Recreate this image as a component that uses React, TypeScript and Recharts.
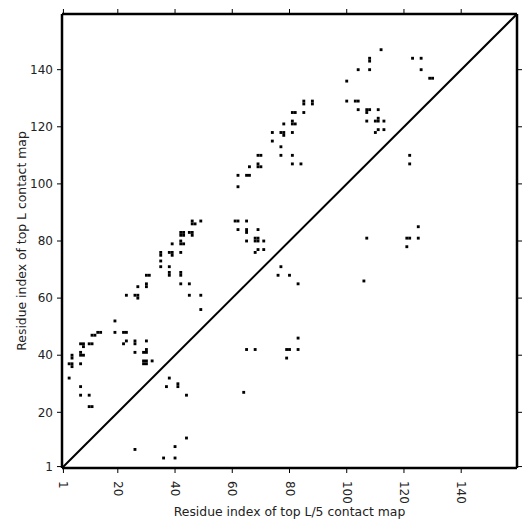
import { ScatterChart, Scatter, XAxis, YAxis, ReferenceLine, Label } from "recharts";

// protein length: the map runs from 0.5 to L + 0.5
const L = 159;
const tickValues = [1, 20, 40, 60, 80, 100, 120, 140];

// contacts above the diagonal (top L)
const topL: [number, number][] = [
  [19, 52], [19, 48], [13, 48], [14, 48], [11, 47], [12, 47], [22, 48], [23, 48],
  [7, 44], [8, 44], [8, 43], [10, 44], [11, 44], [22, 44], [23, 45], [26, 45],
  [26, 44], [30, 45], [26, 41], [29, 41], [30, 41], [30, 42], [4, 40], [4, 39],
  [7, 41], [7, 40], [8, 40], [3, 37], [4, 37], [4, 36], [7, 37], [29, 38],
  [30, 38], [29, 37], [30, 37], [32, 38], [3, 32], [7, 29], [7, 26], [10, 26],
  [10, 22], [11, 22], [49, 56],
  [46, 87], [46, 86], [47, 86], [49, 87], [42, 83], [43, 83], [42, 82], [43, 82],
  [45, 83], [46, 83], [46, 82], [39, 79], [42, 80], [42, 79], [43, 79], [35, 76],
  [35, 75], [38, 76], [39, 76], [39, 75], [42, 76], [35, 73], [35, 71], [38, 71],
  [38, 69], [38, 68], [42, 69], [42, 68], [30, 68], [31, 68], [27, 64], [30, 65],
  [30, 64], [42, 65], [45, 65], [23, 61], [26, 61], [27, 61], [27, 60], [45, 61],
  [49, 61],
  [66, 106], [69, 107], [69, 106], [70, 106], [81, 107], [84, 107], [62, 103],
  [65, 103], [66, 103], [62, 99], [61, 87], [62, 87], [65, 87], [62, 84], [65, 84],
  [65, 83], [69, 84], [65, 80], [68, 81], [69, 81], [68, 80], [69, 80], [71, 80],
  [68, 76], [69, 77], [71, 77],
  [108, 144], [108, 143], [108, 140], [104, 140], [100, 136], [100, 129], [103, 129],
  [104, 129], [107, 126], [108, 126], [107, 125], [104, 126], [107, 122], [85, 129],
  [85, 128], [88, 129], [88, 128], [81, 125], [82, 125], [85, 125], [81, 122],
  [81, 121], [82, 121], [78, 121], [74, 118], [77, 118], [78, 118], [78, 117],
  [81, 118], [74, 115], [77, 113], [69, 110], [70, 110], [77, 110], [81, 110],
  [112, 147], [123, 144], [126, 144], [126, 140], [129, 137], [130, 137], [111, 126],
  [111, 123], [110, 122], [111, 122], [113, 122], [110, 118], [111, 119], [113, 119],
];

// contacts below the diagonal (top L/5)
const topL5: [number, number][] = [
  [77, 71], [76, 68], [80, 68], [83, 65], [106, 66], [107, 81], [121, 81], [122, 81],
  [125, 81], [125, 85], [121, 78], [122, 110], [122, 107], [83, 46], [65, 42],
  [68, 42], [79, 42], [80, 42], [83, 42], [79, 39], [64, 27], [38, 32], [37, 29],
  [41, 30], [41, 29], [44, 26], [44, 11], [40, 8], [26, 7], [36, 4], [40, 4],
];

const toPoints = (list: [number, number][]) => list.map(([x, y]) => ({ x, y }));

const W = 531;
const H = 531;
const margin = { top: 13, right: 13, bottom: 0, left: 0 };
const yAxisWidth = 62;
const xAxisHeight = 63;
const cell = 455 / L;

const font = "DejaVu Sans";
const labelSize = 12.4;

const Cell = (props: any) => {
  const { cx, cy } = props;
  if (cx == null || cy == null) return null;
  return (
    <rect x={cx - cell / 2} y={cy - cell / 2} width={cell} height={cell} fill="#000" />
  );
};

const RotatedTick = ({ x, y, payload }: any) => (
  <text
    x={x}
    y={y}
    transform={`rotate(90, ${x}, ${y})`}
    textAnchor="start"
    dominantBaseline="central"
    fontSize={12}
    fontFamily={font}
    fill="#222"
  >
    {payload.value}
  </text>
);

const YLabel = ({ viewBox }: any) => {
  const cx = (viewBox?.x ?? 0) + 21;
  const cy = (viewBox?.y ?? 14) + (viewBox?.height ?? 454) / 2;
  return (
    <text
      x={cx}
      y={cy}
      transform={`rotate(-90, ${cx}, ${cy})`}
      textAnchor="middle"
      dominantBaseline="central"
      fontSize={labelSize}
      fontFamily={font}
      fill="#222"
    >
      Residue index of top L contact map
    </text>
  );
};

const blank = () => "";

export default function App() {
  const frame = { stroke: "#000", strokeWidth: 2.5 };
  const tl = { stroke: "#000", strokeWidth: 1 };
  const domain: [number, number] = [0.5, L + 0.5];
  return (
    <div style={{ position: "absolute", left: 0, top: 0, background: "#fff" }}>
      <ScatterChart width={W} height={H} margin={margin} style={{ fontFamily: font }}>
        <XAxis
          xAxisId="b"
          type="number"
          dataKey="x"
          domain={domain}
          ticks={tickValues}
          allowDataOverflow
          height={xAxisHeight}
          axisLine={frame}
          tickLine={tl}
          tickSize={5}
          tickMargin={8}
          tick={<RotatedTick />}
          interval={0}
        >
          <Label
            value="Residue index of top L/5 contact map"
            position="insideBottom"
            offset={15}
            fontSize={labelSize}
            fill="#222"
          />
        </XAxis>
        <XAxis
          xAxisId="t"
          orientation="top"
          type="number"
          dataKey="x"
          domain={domain}
          ticks={tickValues}
          allowDataOverflow
          height={1}
          axisLine={frame}
          tickLine={tl}
          tickSize={5}
          tickFormatter={blank}
          interval={0}
        />
        <YAxis
          yAxisId="l"
          type="number"
          dataKey="y"
          domain={domain}
          ticks={tickValues}
          allowDataOverflow
          width={yAxisWidth}
          axisLine={frame}
          tickLine={tl}
          tickSize={5}
          tickMargin={4}
          tick={{ fontSize: 12, fill: "#222", fontFamily: font }}
          interval={0}
        >
          <Label content={<YLabel />} />
        </YAxis>
        <YAxis
          yAxisId="r"
          orientation="right"
          type="number"
          dataKey="y"
          domain={domain}
          ticks={tickValues}
          allowDataOverflow
          width={1}
          axisLine={frame}
          tickLine={tl}
          tickSize={5}
          tickFormatter={blank}
          interval={0}
        />
        <ReferenceLine
          xAxisId="b"
          yAxisId="l"
          segment={[{ x: domain[0], y: domain[0] }, { x: domain[1], y: domain[1] }]}
          stroke="#000"
          strokeWidth={2}
        />
        <Scatter
          xAxisId="b"
          yAxisId="l"
          data={toPoints(topL)}
          shape={<Cell />}
          isAnimationActive={false}
        />
        <Scatter
          xAxisId="b"
          yAxisId="l"
          data={toPoints(topL5)}
          shape={<Cell />}
          isAnimationActive={false}
        />
      </ScatterChart>
    </div>
  );
}
